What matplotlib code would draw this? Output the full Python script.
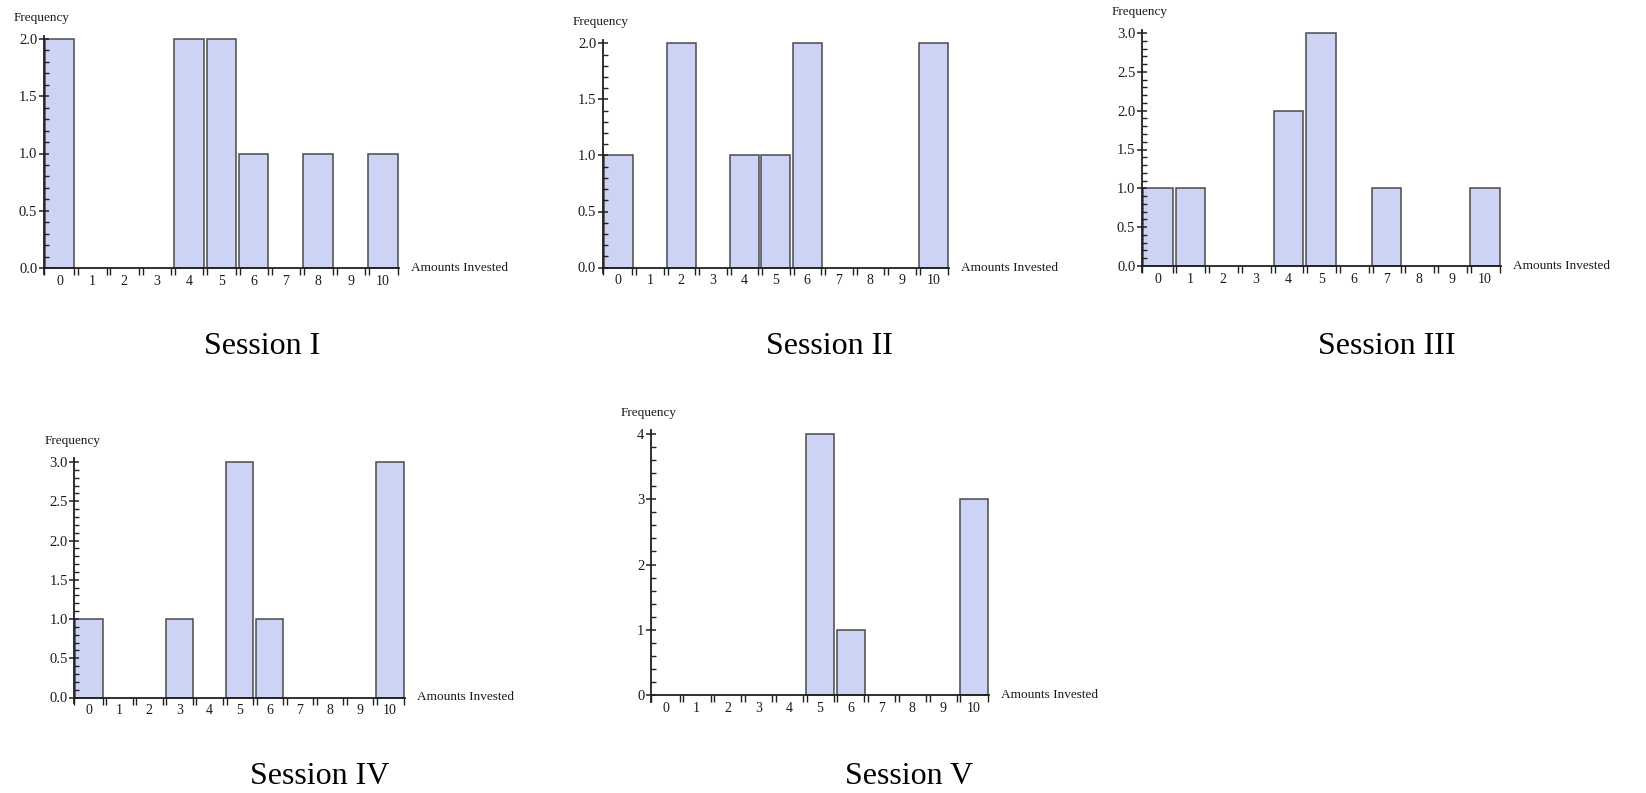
import matplotlib
matplotlib.use('Agg')
import matplotlib.pyplot as plt
from matplotlib.ticker import MultipleLocator, FixedLocator, FormatStrFormatter

# amounts invested (0..10) and frequency per session
amounts = list(range(11))
session_1 = [2, 0, 0, 0, 2, 2, 1, 0, 1, 0, 1]
session_2 = [1, 0, 2, 0, 1, 1, 2, 0, 0, 0, 2]
session_3 = [1, 1, 0, 0, 2, 3, 0, 1, 0, 0, 1]
session_4 = [1, 0, 0, 1, 0, 3, 1, 0, 0, 0, 3]
session_5 = [0, 0, 0, 0, 0, 4, 1, 0, 0, 0, 3]
titles = ['Session I', 'Session II', 'Session III', 'Session IV', 'Session V']
y_max = [2.0, 2.0, 3.0, 3.0, 4]
y_major = [0.5, 0.5, 0.5, 0.5, 1]
y_minor = [0.1, 0.1, 0.1, 0.1, 0.2]
y_fmt = ['%.1f', '%.1f', '%.1f', '%.1f', '%d']

W, H = 1646, 793
# pixel geometry: left (x=-0.5), right (x=10.5), y of 0, y of top tick
boxes = [
    (43.5, 399, 268, 39),
    (602.5, 949, 267.5, 43.5),
    (1141.5, 1501, 266, 33),
    (74, 405, 697.5, 462),
    (650.5, 989, 695, 434),
]
title_pos = [(262, 346), (829, 346), (1387, 346), (320, 776), (909, 776)]

bar_color = '#cdd3f4'
edge_color = '#4a4a4a'
txt = '#1a1a1a'
font = 'Liberation Serif'

plt.rcParams['font.family'] = [font, 'DejaVu Serif']

fig = plt.figure(figsize=(W / 100, H / 100), dpi=100)
fig.patch.set_facecolor('white')

sessions = [session_1, session_2, session_3, session_4, session_5]
for k, vals in enumerate(sessions):
    left, right, y0, ytop = boxes[k]
    ymax = y_max[k]
    lo, hi = -0.025 * ymax, 1.015 * ymax
    ppu = (y0 - ytop) / ymax
    top_px = ytop - (hi - ymax) * ppu
    bot_px = y0 + (0 - lo) * ppu
    ax = fig.add_axes([left / W, 1 - bot_px / H, (right - left) / W, (bot_px - top_px) / H])
    ax.set_xlim(-0.5, 10.5)
    ax.set_ylim(lo, hi)
    ax.patch.set_alpha(0)

    xs = [a for a, v in zip(amounts, vals) if v > 0]
    hs = [v for v in vals if v > 0]
    ax.bar(xs, hs, width=0.91, color=bar_color, edgecolor=edge_color,
           linewidth=1.1, clip_on=False, zorder=1)

    for s in ['top', 'right']:
        ax.spines[s].set_visible(False)
    ax.spines['bottom'].set_position(('data', 0))
    ax.spines['bottom'].set_zorder(3)
    for s in ['left', 'bottom']:
        ax.spines[s].set_linewidth(1.3)
        ax.spines[s].set_color('#202020')

    # x: category labels at centres, double marks at the bin edges
    ax.set_xticks(amounts)
    ax.set_xticklabels([str(a) for a in amounts])
    edges = [-0.5] + [b + 0.5 + d for b in range(10) for d in (-0.05, 0.07)] + [10.47]
    ax.xaxis.set_minor_locator(FixedLocator(edges))
    ax.tick_params(axis='x', which='major', length=0, pad=5, labelsize=10, labelcolor=txt)
    ax.tick_params(axis='x', which='minor', direction='out', length=5, width=1.0, color='#202020')

    ax.yaxis.set_major_locator(MultipleLocator(y_major[k]))
    ax.yaxis.set_minor_locator(MultipleLocator(y_minor[k]))
    ax.yaxis.set_major_formatter(FormatStrFormatter(y_fmt[k]))
    ax.set_yticks([t * y_major[k] for t in range(int(round(ymax / y_major[k])) + 1)])
    ax.tick_params(axis='y', which='major', direction='inout', length=7, width=1.1,
                   pad=1, labelsize=10.5, labelcolor=txt, color='#202020')
    ax.tick_params(axis='y', which='minor', direction='in', length=3.5, width=1.0, color='#202020')

    fig.text((left - 1.5) / W, 1 - (ytop - 21) / H, 'Frequency', ha='center', va='center',
             fontsize=9.5, color=txt)
    fig.text((right + 12) / W, 1 - y0 / H, 'Amounts Invested', ha='left', va='center',
             fontsize=9.5, color=txt)
    tx, ty = title_pos[k]
    fig.text(tx / W, 1 - ty / H, titles[k], ha='center', va='center', fontsize=23, color='black')

fig.savefig('out.png', dpi=100)
